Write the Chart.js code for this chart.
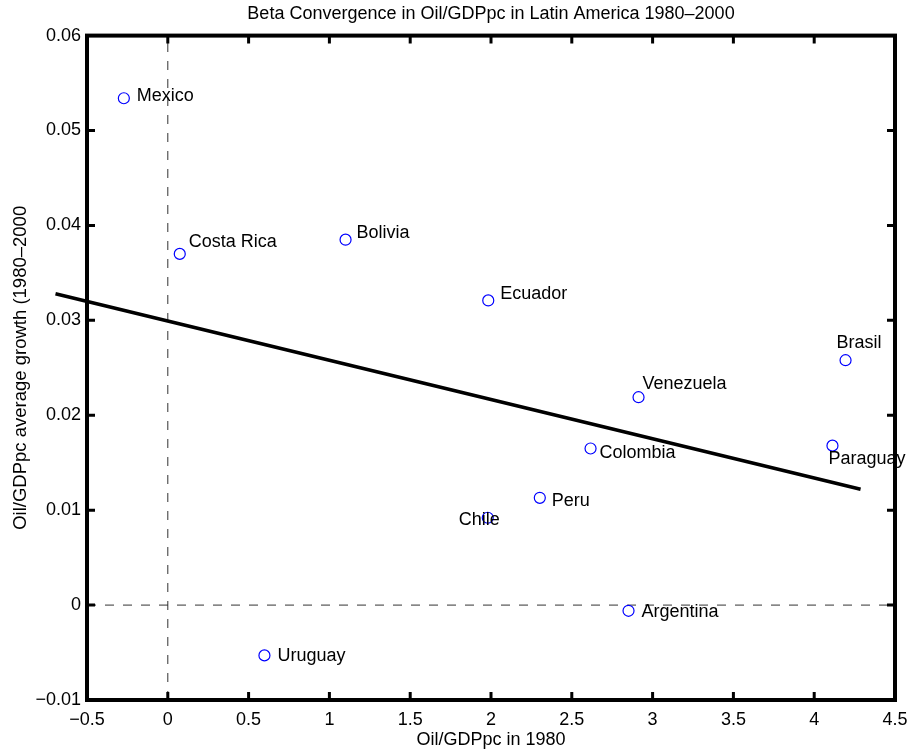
<!DOCTYPE html>
<html>
<head>
<meta charset="utf-8">
<script src="https://cdn.jsdelivr.net/npm/chart.js@4"></script>
<style>
  body { margin: 0; background: #fff; }
</style>
</head>
<body>
<canvas id="chart" width="911" height="753"></canvas>
<script>
/* Data */
const countries = ["Mexico", "Costa Rica", "Bolivia", "Ecuador", "Brasil", "Venezuela",
                   "Colombia", "Paraguay", "Peru", "Chile", "Argentina", "Uruguay"];
const oil1980   = [-0.272, 0.074, 1.100, 1.983, 4.194, 2.913, 2.616, 4.113, 2.302, 1.980, 2.851, 0.598];
const avgGrowth = [0.0534, 0.0370, 0.0385, 0.0321, 0.0258, 0.0219, 0.0165, 0.0168, 0.0113, 0.0092, -0.0006, -0.0053];

/* fitted line end points */
const fitX = [-0.695, 4.287];
const fitY = [0.0328, 0.0122];

const xTickLabels = ["\u22120.5", "0", "0.5", "1", "1.5", "2", "2.5", "3", "3.5", "4", "4.5"];
const yTickLabels = ["\u22120.01", "0", "0.01", "0.02", "0.03", "0.04", "0.05", "0.06"];

/* where each name sits relative to its marker (px) */
const labelOffsets = {
  "Mexico": [13, -2], "Costa Rica": [9, -12], "Bolivia": [11, -7], "Ecuador": [12, -6],
  "Brasil": [-9, -17], "Venezuela": [4, -13], "Colombia": [9, 5], "Paraguay": [-4, 13],
  "Peru": [12, 3], "Chile": [-29, 2], "Argentina": [13, 1], "Uruguay": [13, 1]
};

const FONT = "'Liberation Sans', Arial, Helvetica, sans-serif";
Chart.defaults.font.family = FONT;
Chart.defaults.font.size = 18;
Chart.defaults.color = "#000";

const points = oil1980.map((x, i) => ({ x: x, y: avgGrowth[i] }));
const fitLine = fitX.map((x, i) => ({ x: x, y: fitY[i] }));

/*
Box round the axes with inward ticks
*/
const boxPlugin = {
  id: "box",
  afterDatasetsDraw(chart) {
    const { ctx, chartArea: a, scales } = chart;
    ctx.save();
    ctx.strokeStyle = "#000";
    ctx.lineWidth = 3;
    const t = 8;
    scales.x.ticks.forEach(tk => {
      const px = scales.x.getPixelForValue(tk.value);
      ctx.beginPath();
      ctx.moveTo(px, a.bottom); ctx.lineTo(px, a.bottom - t);
      ctx.moveTo(px, a.top); ctx.lineTo(px, a.top + t);
      ctx.stroke();
    });
    scales.y.ticks.forEach(tk => {
      const py = scales.y.getPixelForValue(tk.value);
      ctx.beginPath();
      ctx.moveTo(a.left, py); ctx.lineTo(a.left + t, py);
      ctx.moveTo(a.right, py); ctx.lineTo(a.right - t, py);
      ctx.stroke();
    });
    ctx.lineWidth = 4;
    ctx.strokeRect(a.left, a.top, a.right - a.left, a.bottom - a.top);
    ctx.restore();
  }
};

/*
Country names next to markers
*/
const namePlugin = {
  id: "names",
  afterDatasetsDraw(chart) {
    const { ctx, scales } = chart;
    ctx.save();
    ctx.font = "18px " + FONT;
    ctx.fillStyle = "#000";
    ctx.textAlign = "left";
    ctx.textBaseline = "middle";
    countries.forEach((name, i) => {
      const off = labelOffsets[name];
      const px = scales.x.getPixelForValue(oil1980[i]);
      const py = scales.y.getPixelForValue(avgGrowth[i]);
      ctx.fillText(name, px + off[0], py + off[1]);
    });
    ctx.restore();
  }
};

new Chart(document.getElementById("chart").getContext("2d"), {
  type: "scatter",
  data: {
    datasets: [
      {
        data: points,
        showLine: false,
        pointStyle: "circle",
        pointRadius: 5.5,
        pointBorderWidth: 1.2,
        pointBorderColor: "#0000ff",
        pointBackgroundColor: "rgba(0,0,0,0)",
        order: 1
      },
      {
        type: "line",
        data: fitLine,
        borderColor: "#000",
        borderWidth: 3.5,
        pointRadius: 0,
        fill: false,
        clip: false,
        order: 2
      },
      {
        type: "line",
        data: [{ x: 0, y: -0.01 }, { x: 0, y: 0.06 }],
        borderColor: "#333",
        borderWidth: 1,
        borderDash: [9, 9],
        pointRadius: 0,
        fill: false,
        order: 3
      },
      {
        type: "line",
        data: [{ x: -0.5, y: 0 }, { x: 4.5, y: 0 }],
        borderColor: "#333",
        borderWidth: 1,
        borderDash: [9, 9],
        pointRadius: 0,
        fill: false,
        order: 3
      }
    ]
  },
  options: {
    responsive: false,
    animation: false,
    layout: { padding: { left: 0, right: 16, top: 0, bottom: 0 } },
    plugins: {
      legend: { display: false },
      tooltip: { enabled: false },
      title: {
        display: true,
        fullSize: false,
        text: "Beta Convergence in Oil/GDPpc in Latin America 1980\u20132000",
        font: { size: 18, weight: "normal" },
        color: "#000",
        padding: { top: 3, bottom: 11 }
      }
    },
    scales: {
      x: {
        type: "linear",
        min: -0.5,
        max: 4.5,
        grid: { display: false, drawTicks: false },
        border: { display: false },
        ticks: {
          stepSize: 0.5,
          autoSkip: false,
          maxRotation: 0,
          padding: 9,
          callback: (v, i) => xTickLabels[i]
        },
        title: {
          display: true,
          text: "Oil/GDPpc in 1980",
          padding: { top: 0, bottom: 2 }
        },
        afterFit(s) { s.height = 53; s.paddingLeft = 0; s.paddingRight = 0; }
      },
      y: {
        type: "linear",
        min: -0.01,
        max: 0.06,
        grid: { display: false, drawTicks: false },
        border: { display: false },
        ticks: {
          stepSize: 0.01,
          autoSkip: false,
          padding: 6,
          callback: (v, i) => yTickLabels[i]
        },
        title: {
          display: true,
          text: "Oil/GDPpc average growth (1980\u20132000",
          font: { size: 18.5 },
          padding: { top: 10, bottom: 0 }
        },
        afterFit(s) { s.width = 87; s.paddingTop = 0; s.paddingBottom = 0; }
      }
    }
  },
  plugins: [boxPlugin, namePlugin]
});
</script>
</body>
</html>
